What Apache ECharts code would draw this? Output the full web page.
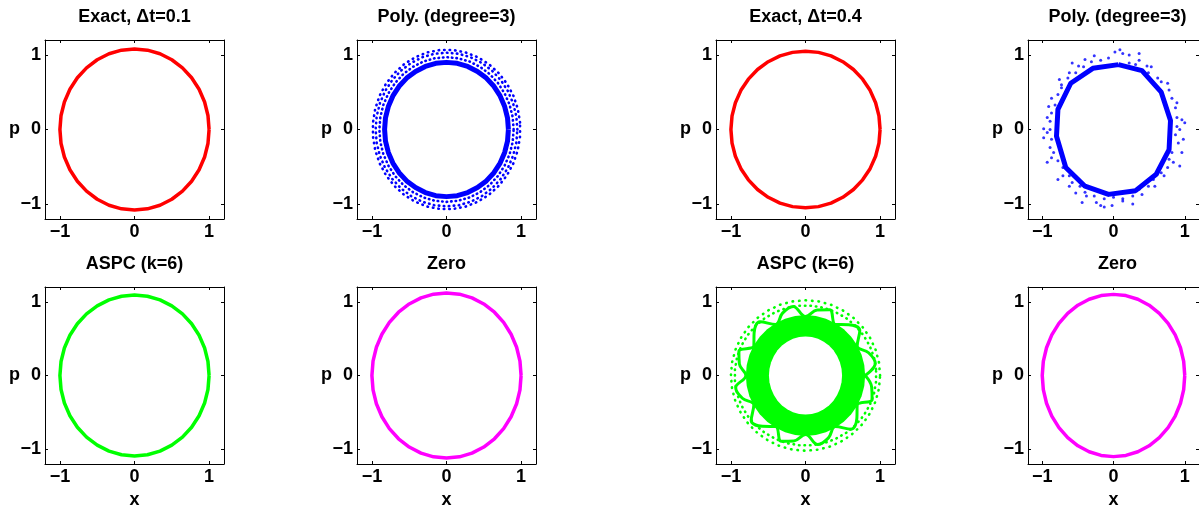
<!DOCTYPE html>
<html><head><meta charset="utf-8">
<script src="https://cdn.jsdelivr.net/npm/echarts@6/dist/echarts.min.js"></script>
<style>html,body{margin:0;padding:0;background:#fff}#c{width:1199px;height:510px}</style>
</head><body><div id="c"></div><script>
const panelTitles = ['Exact, \u0394t=0.1','Poly. (degree=3)','Exact, \u0394t=0.4','Poly. (degree=3)','ASPC (k=6)','Zero','ASPC (k=6)','Zero'];
const tickValues = [-1, 0, 1];
const axisMin = -1.2, axisMax = 1.2;
const xName = 'x', yName = 'p';

// Exact, dt=0.1 (red)
const exact01 = [[1,0],[.985,.188],[.94,.369],[.866,.54],[.766,.694],[.643,.827],[.5,.935],[.342,1.015],[.174,1.064],[0,1.08],
[-.174,1.064],[-.342,1.015],[-.5,.935],[-.643,.827],[-.766,.694],[-.866,.54],[-.94,.369],[-.985,.188],[-1,0],
[-.985,-.188],[-.94,-.369],[-.866,-.54],[-.766,-.694],[-.643,-.827],[-.5,-.935],[-.342,-1.015],[-.174,-1.064],[0,-1.08],
[.174,-1.064],[.342,-1.015],[.5,-.935],[.643,-.827],[.766,-.694],[.866,-.54],[.94,-.369],[.985,-.188],[1,0]];
// Exact, dt=0.4 (red)
const exact04 = [[1,0],[.985,.183],[.94,.359],[.866,.525],[.766,.675],[.643,.804],[.5,.909],[.342,.987],[.174,1.034],[0,1.05],
[-.174,1.034],[-.342,.987],[-.5,.909],[-.643,.804],[-.766,.675],[-.866,.525],[-.94,.359],[-.985,.183],[-1,0],
[-.985,-.183],[-.94,-.359],[-.866,-.525],[-.766,-.675],[-.643,-.804],[-.5,-.909],[-.342,-.987],[-.174,-1.034],[0,-1.05],
[.174,-1.034],[.342,-.987],[.5,-.909],[.643,-.804],[.766,-.675],[.866,-.525],[.94,-.359],[.985,-.183],[1,0]];
// ASPC, dt=0.1 (green)
const aspc01 = [[1,0],[.985,.19],[.94,.373],[.866,.545],[.766,.701],[.643,.835],[.5,.944],[.342,1.025],[.174,1.074],[0,1.09],
[-.174,1.074],[-.342,1.025],[-.5,.944],[-.643,.835],[-.766,.701],[-.866,.545],[-.94,.373],[-.985,.19],[-1,0],
[-.985,-.19],[-.94,-.373],[-.866,-.545],[-.766,-.701],[-.643,-.835],[-.5,-.944],[-.342,-1.025],[-.174,-1.074],[0,-1.09],
[.174,-1.074],[.342,-1.025],[.5,-.944],[.643,-.835],[.766,-.701],[.866,-.545],[.94,-.373],[.985,-.19],[1,0]];
// Zero, dt=0.1 (magenta)
const zero01 = [[1,0],[.985,.195],[.94,.383],[.866,.56],[.766,.72],[.643,.858],[.5,.97],[.342,1.053],[.174,1.103],[0,1.12],
[-.174,1.103],[-.342,1.053],[-.5,.97],[-.643,.858],[-.766,.72],[-.866,.56],[-.94,.383],[-.985,.195],[-1,0],
[-.985,-.195],[-.94,-.383],[-.866,-.56],[-.766,-.72],[-.643,-.858],[-.5,-.97],[-.342,-1.053],[-.174,-1.103],[0,-1.12],
[.174,-1.103],[.342,-1.053],[.5,-.97],[.643,-.858],[.766,-.72],[.866,-.56],[.94,-.383],[.985,-.195],[1,0]];
// Zero, dt=0.4 (magenta)
const zero04 = [[1,0],[.985,.191],[.94,.376],[.866,.55],[.766,.707],[.643,.843],[.5,.953],[.342,1.034],[.174,1.084],[0,1.1],
[-.174,1.084],[-.342,1.034],[-.5,.953],[-.643,.843],[-.766,.707],[-.866,.55],[-.94,.376],[-.985,.191],[-1,0],
[-.985,-.191],[-.94,-.376],[-.866,-.55],[-.766,-.707],[-.643,-.843],[-.5,-.953],[-.342,-1.034],[-.174,-1.084],[0,-1.1],
[.174,-1.084],[.342,-1.034],[.5,-.953],[.643,-.843],[.766,-.707],[.866,-.55],[.94,-.376],[.985,-.191],[1,0]];
// Poly, dt=0.1 (blue): dense inner orbit and dotted outer band
const poly01Inner = [[.83,0],[.818,.157],[.78,.308],[.719,.45],[.636,.579],[.534,.689],[.415,.779],[.284,.846],[.144,.887],[0,.9],
[-.144,.887],[-.284,.846],[-.415,.779],[-.534,.689],[-.636,.579],[-.719,.45],[-.78,.308],[-.818,.157],[-.83,0],
[-.818,-.157],[-.78,-.308],[-.719,-.45],[-.636,-.579],[-.534,-.689],[-.415,-.779],[-.284,-.846],[-.144,-.887],[0,-.9],
[.144,-.887],[.284,-.846],[.415,-.779],[.534,-.689],[.636,-.579],[.719,-.45],[.78,-.308],[.818,-.157],[.83,0]];
const poly01RingA = [[.9,0],[.887,.169],[.846,.332],[.779,.485],[.689,.624],[.579,.743],[.45,.84],[.308,.912],[.157,.955],[0,.97],
[-.157,.955],[-.308,.912],[-.45,.84],[-.579,.743],[-.689,.624],[-.779,.485],[-.846,.332],[-.887,.169],[-.9,0],
[-.887,-.169],[-.846,-.332],[-.779,-.485],[-.689,-.624],[-.579,-.743],[-.45,-.84],[-.308,-.912],[-.157,-.955],[0,-.97],
[.157,-.955],[.308,-.912],[.45,-.84],[.579,-.743],[.689,-.624],[.779,-.485],[.846,-.332],[.887,-.169],[.9,0]];
const poly01RingB = [[.95,0],[.936,.179],[.893,.352],[.823,.515],[.728,.662],[.611,.789],[.475,.892],[.325,.968],[.165,1.015],[0,1.03],
[-.165,1.015],[-.325,.968],[-.475,.892],[-.611,.789],[-.728,.662],[-.823,.515],[-.893,.352],[-.936,.179],[-.95,0],
[-.936,-.179],[-.893,-.352],[-.823,-.515],[-.728,-.662],[-.611,-.789],[-.475,-.892],[-.325,-.968],[-.165,-1.015],[0,-1.03],
[.165,-1.015],[.325,-.968],[.475,-.892],[.611,-.789],[.728,-.662],[.823,-.515],[.893,-.352],[.936,-.179],[.95,0]];
const poly01RingC = [[.986,.093],[.956,.277],[.897,.453],[.811,.614],[.7,.756],[.568,.876],[.419,.969],[.256,1.034],[.086,1.066],
[-.086,1.066],[-.256,1.034],[-.419,.969],[-.568,.876],[-.7,.756],[-.811,.614],[-.897,.453],[-.956,.277],[-.986,.093],
[-.986,-.093],[-.956,-.277],[-.897,-.453],[-.811,-.614],[-.7,-.756],[-.568,-.876],[-.419,-.969],[-.256,-1.034],[-.086,-1.066],
[.086,-1.066],[.256,-1.034],[.419,-.969],[.568,-.876],[.7,-.756],[.811,-.614],[.897,-.453],[.956,-.277],[.986,-.093],[.986,.093]];
// Poly, dt=0.4 (blue): polygonal orbit and scattered points
const poly04Orbit = [[0.07,0.87],[0.40,0.79],[0.67,0.50],[0.80,0.12],[0.78,-0.27],[0.60,-0.60],[0.31,-0.82],[-0.07,-0.87],
[-0.40,-0.76],[-0.67,-0.51],[-0.80,-0.09],[-0.78,0.27],[-0.60,0.62],[-0.29,0.82],[0.07,0.87]];
const poly04Dots = [[0.13,1.02],[0.02,1.04],[-0.27,0.99],[-0.4,0.94],[-0.49,0.85],[-0.62,0.76],[-0.73,0.56],[-0.87,0.42],[-0.93,0.16],[-0.98,0.01],
[-0.98,-0.11],[-0.89,-0.24],[-0.87,-0.38],[-0.71,-0.62],[-0.62,-0.76],[-0.53,-0.85],[-0.38,-0.89],[-0.24,-0.98],[-0.13,-1.04],[-0.02,-1.02],
[0.13,-0.96],[0.27,-1.0],[0.4,-0.87],[0.58,-0.76],[0.71,-0.62],[0.84,-0.44],[0.96,-0.31],[0.98,-0.13],[0.96,0.13],[0.89,0.36],
[0.78,0.53],[0.67,0.64],[0.53,0.84],[0.36,0.93],[0.22,1.0],
[-0.18,0.93],[-0.07,0.96],[0.22,0.89],[0.31,0.87],[0.47,0.85],[0.49,0.76],[0.62,0.69],[0.76,0.62],[0.82,0.42],[0.87,0.29],
[0.89,0.16],[0.89,0.04],[0.87,-0.07],[0.91,-0.18],[0.82,-0.31],[0.78,-0.4],[0.76,-0.51],[0.67,-0.58],[0.56,-0.67],[0.49,-0.76],
[0.36,-0.8],[0.27,-0.89],[0.13,-0.93],[0,-0.91],[-0.13,-0.93],[-0.27,-0.89],[-0.4,-0.84],[-0.47,-0.76],[-0.58,-0.71],[-0.62,-0.62],
[-0.71,-0.51],[-0.78,-0.42],[-0.84,-0.31],[-0.87,-0.13],[-0.89,0],[-0.89,0.11],[-0.87,0.22],[-0.82,0.33],[-0.78,0.47],[-0.73,0.6],
[-0.64,0.69],[-0.53,0.76],[-0.42,0.84],[-0.31,0.91],
[-0.93,-0.04],[-0.91,0.31],[-0.76,0.67],[-0.58,0.89],[0.09,1.07],[0.36,1.02],[0.93,0],[1.0,0.09],[0.93,-0.49],[-0.18,-1.02],
[-0.44,-0.98],[-0.78,-0.67],[-0.93,-0.44]];
// ASPC, dt=0.4 (green): dense band (outer edge / hole), hooked fringe, outer dotted rings
const aspc04BandOuter = [[.8,0],[.788,.143],[.752,.28],[.693,.41],[.613,.527],[.514,.628],[.4,.71],[.274,.771],[.139,.808],[0,.82],
[-.139,.808],[-.274,.771],[-.4,.71],[-.514,.628],[-.613,.527],[-.693,.41],[-.752,.28],[-.788,.143],[-.8,0],
[-.788,-.143],[-.752,-.28],[-.693,-.41],[-.613,-.527],[-.514,-.628],[-.4,-.71],[-.274,-.771],[-.139,-.808],[0,-.82],
[.139,-.808],[.274,-.771],[.4,-.71],[.514,-.628],[.613,-.527],[.693,-.41],[.752,-.28],[.788,-.143]];
const aspc04Hole = [[.49,0],[.483,.092],[.461,.181],[.424,.265],[.375,.341],[.315,.406],[.245,.459],[.168,.498],[.085,.522],[0,.53],
[-.085,.522],[-.168,.498],[-.245,.459],[-.315,.406],[-.375,.341],[-.424,.265],[-.461,.181],[-.483,.092],[-.49,0],
[-.483,-.092],[-.461,-.181],[-.424,-.265],[-.375,-.341],[-.315,-.406],[-.245,-.459],[-.168,-.498],[-.085,-.522],[0,-.53],
[.085,-.522],[.168,-.498],[.245,-.459],[.315,-.406],[.375,-.341],[.424,-.265],[.461,-.181],[.483,-.092]];
const aspc04Fringe = [[.8,0],[.936,.165],[.846,.308],[.693,.4],[.728,.611],[.579,.689],[.4,.693],[.325,.893],[.157,.887],[0,.8],
[-.165,.936],[-.308,.846],[-.4,.693],[-.611,.728],[-.689,.579],[-.693,.4],[-.893,.325],[-.887,.157],[-.8,0],
[-.936,-.165],[-.846,-.308],[-.693,-.4],[-.728,-.611],[-.579,-.689],[-.4,-.693],[-.325,-.893],[-.157,-.887],[0,-.8],
[.165,-.936],[.308,-.846],[.4,-.693],[.611,-.728],[.689,-.579],[.693,-.4],[.893,-.325],[.887,-.157],[.8,0]];
const aspc04RingOuter = [[1,0],[.985,.177],[.94,.349],[.866,.51],[.766,.656],[.643,.781],[.5,.883],[.342,.959],[.174,1.005],[0,1.02],
[-.174,1.005],[-.342,.959],[-.5,.883],[-.643,.781],[-.766,.656],[-.866,.51],[-.94,.349],[-.985,.177],[-1,0],
[-.985,-.177],[-.94,-.349],[-.866,-.51],[-.766,-.656],[-.643,-.781],[-.5,-.883],[-.342,-.959],[-.174,-1.005],[0,-1.02],
[.174,-1.005],[.342,-.959],[.5,-.883],[.643,-.781],[.766,-.656],[.866,-.51],[.94,-.349],[.985,-.177],[1,0]];
const aspc04RingInner = [[.946,.083],[.918,.246],[.861,.402],[.778,.545],[.672,.672],[.545,.778],[.402,.861],[.246,.918],[.083,.946],
[-.083,.946],[-.246,.918],[-.402,.861],[-.545,.778],[-.672,.672],[-.778,.545],[-.861,.402],[-.918,.246],[-.946,.083],
[-.946,-.083],[-.918,-.246],[-.861,-.402],[-.778,-.545],[-.672,-.672],[-.545,-.778],[-.402,-.861],[-.246,-.918],[-.083,-.946],
[.083,-.946],[.246,-.918],[.402,-.861],[.545,-.778],[.672,-.672],[.778,-.545],[.861,-.402],[.918,-.246],[.946,-.083],[.946,.083]];

const RED = '#ff0000', BLUE = '#0000ff', GREEN = '#00ff00', MAGENTA = '#ff00ff';
const FONT = '"Liberation Sans", Arial, Helvetica, sans-serif';
const lefts = [45, 357, 716, 1028], tops = [40, 287], S = 179;

function solid(data, color, width, smooth) {
  return {type: 'line', data, symbol: 'none', smooth: smooth || false, lineStyle: {color, width, join: 'round'}};
}
function dotted(data, color, width, gap) {
  return {type: 'line', data, symbol: 'none', lineStyle: {color, width, type: [0.5, gap], cap: 'round'}};
}
function dots(data, color, size) {
  return {type: 'scatter', data, symbol: 'circle', symbolSize: size, itemStyle: {color}};
}
function fill(data, color) {
  return {type: 'custom', data: [[0, 0]], renderItem: (p, api) => ({
    type: 'polygon', shape: {points: data.map(q => api.coord(q))}, style: {fill: color}
  })};
}

const panelSeries = [
  [solid(exact01, RED, 3.5)],
  [dotted(poly01RingC, BLUE, 2.6, 5), dotted(poly01RingB, BLUE, 2.6, 4.5), dotted(poly01RingA, BLUE, 2.6, 4), solid(poly01Inner, BLUE, 5)],
  [solid(exact04, RED, 3.5)],
  [dots(poly04Dots, BLUE, 3), solid(poly04Orbit, BLUE, 5)],
  [solid(aspc01, GREEN, 3.5)],
  [solid(zero01, MAGENTA, 3.5)],
  [fill(aspc04BandOuter, GREEN), fill(aspc04Hole, '#ffffff'), solid(aspc04Fringe, GREEN, 3, 0.4),
   dotted(aspc04RingInner, GREEN, 2.6, 5), dotted(aspc04RingOuter, GREEN, 2.6, 6)],
  [solid(zero04, MAGENTA, 3.5)]
];

const fmt = v => (v < 0 ? '\u2212' + Math.abs(v) : String(v));
const labelStyle = {fontSize: 18, fontWeight: 'bold', color: '#000', fontFamily: FONT};
function axis(gridIndex, position, showLabel, name, gap, namePad) {
  const a = {
    type: 'value', gridIndex, position, min: axisMin, max: axisMax,
    splitLine: {show: false},
    axisLine: {show: true, onZero: false, lineStyle: {color: '#000', width: 1}},
    axisTick: {show: true, inside: true, length: 3, customValues: tickValues, lineStyle: {color: '#000', width: 1}},
    axisLabel: Object.assign({show: showLabel, customValues: tickValues, formatter: fmt, margin: 4}, labelStyle)
  };
  if (name) {
    a.name = name; a.nameLocation = 'middle'; a.nameGap = gap; a.nameRotate = 0; a.nameMoveOverlap = false;
    a.nameTextStyle = Object.assign({padding: namePad || 0}, labelStyle);
  }
  return a;
}

const grid = [], xAxis = [], yAxis = [], title = [], series = [];
for (let i = 0; i < 8; i++) {
  const r = Math.floor(i / 4), c = i % 4;
  grid.push({left: lefts[c], top: tops[r], width: S, height: S, show: false});
  xAxis.push(axis(i, 'bottom', true, r === 1 ? xName : null, 27));
  xAxis.push(axis(i, 'top', false));
  yAxis.push(axis(i, 'left', true, yName, 25, [0, 0, 10, 0]));
  yAxis.push(axis(i, 'right', false));
  title.push({text: panelTitles[i], left: lefts[c] + S / 2, top: tops[r] - 32, textAlign: 'center', padding: 0,
    textStyle: Object.assign({}, labelStyle)});
  panelSeries[i].forEach(s => {
    s.xAxisIndex = 2 * i; s.yAxisIndex = 2 * i; s.silent = true; s.animation = false;
    series.push(s);
  });
}

const chart = echarts.init(document.getElementById('c'), null, {renderer: 'canvas'});
chart.setOption({backgroundColor: '#ffffff', animation: false, title, grid, xAxis, yAxis, series});
</script></body></html>
